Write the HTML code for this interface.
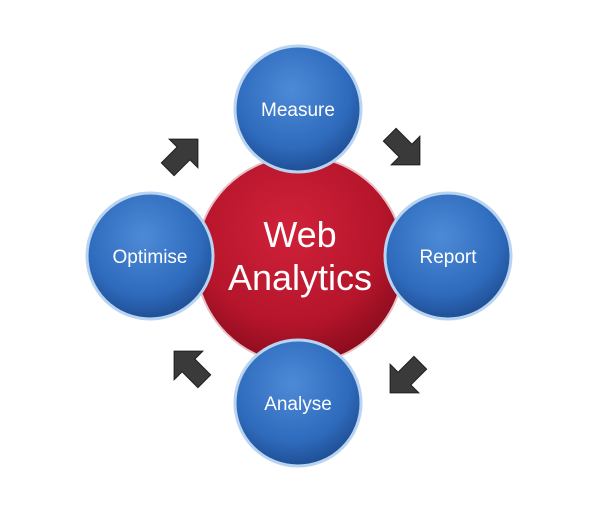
<!DOCTYPE html>
<html><head><style>body{margin:0;background:#fff}svg{display:block}</style></head><body>
<svg width="600" height="508" viewBox="0 0 600 508" xmlns="http://www.w3.org/2000/svg">
<defs>
<radialGradient id="b" cx="45%" cy="35%" r="65%"><stop offset="0" stop-color="#4d8ad6"/><stop offset="0.7" stop-color="#2f6bbd"/><stop offset="1" stop-color="#1f4f95"/></radialGradient>
<radialGradient id="r" cx="45%" cy="35%" r="65%"><stop offset="0" stop-color="#d0213a"/><stop offset="0.7" stop-color="#b5152b"/><stop offset="1" stop-color="#8c0c1e"/></radialGradient>
<g id="ar"><polygon points="-18,-8 2,-8 2,-18 20,0 2,18 2,8 -18,8" fill="#3a3a3a" stroke="#222" stroke-width="1"/></g>
</defs>
<circle cx="300" cy="260" r="104" fill="url(#r)" stroke="#e8c0c6" stroke-width="2"/>
<g stroke="#b8d4f0" stroke-width="3">
<circle cx="298" cy="109" r="63" fill="url(#b)"/>
<circle cx="448" cy="256" r="63" fill="url(#b)"/>
<circle cx="298" cy="403" r="63" fill="url(#b)"/>
<circle cx="150" cy="256" r="63" fill="url(#b)"/>
</g>
<use href="#ar" transform="translate(182,155) rotate(-45) scale(1.12)"/>
<use href="#ar" transform="translate(404,149) rotate(45) scale(1.12)"/>
<use href="#ar" transform="translate(406,377) rotate(135) scale(1.12)"/>
<use href="#ar" transform="translate(190,367) rotate(-135) scale(1.12)"/>
<g font-family="Liberation Sans, sans-serif" fill="#fff" text-anchor="middle">
<text x="300" y="247" font-size="36">Web</text>
<text x="300" y="290" font-size="36">Analytics</text>
<text x="298" y="116" font-size="19">Measure</text>
<text x="448" y="263" font-size="19">Report</text>
<text x="298" y="410" font-size="19">Analyse</text>
<text x="150" y="263" font-size="19">Optimise</text>
</g>
</svg>
</body></html>
